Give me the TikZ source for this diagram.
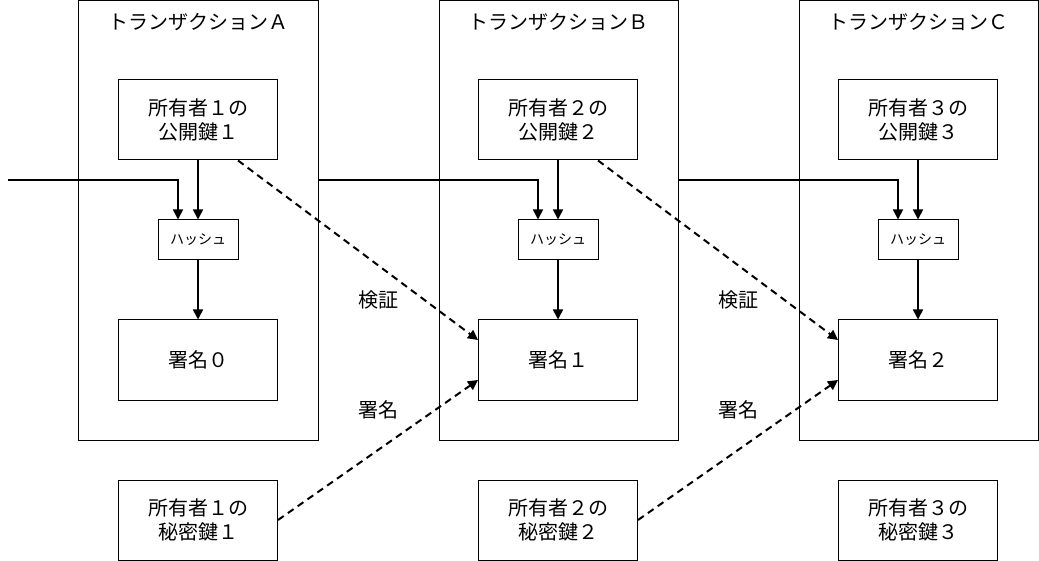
\documentclass[tikz,border=0pt]{standalone}
\usepackage{fontspec}
\newfontfamily\jp{Noto Sans CJK JP}
\usepackage{tikz}
\usetikzlibrary{arrows.meta}

\begin{document}
\begin{tikzpicture}[x=1bp,y=1bp,node distance=360bp,
        >={Triangle[length=10bp,width=10bp]},
        txbox/.style={rectangle,draw=black,line width=1bp,minimum width=239bp,minimum height=439bp},
        keybox/.style={rectangle,draw=black,line width=1bp,minimum width=159bp,minimum height=80bp,
          align=center,font=\jp\fontsize{20bp}{24bp}\selectfont},
        hashbox/.style={rectangle,draw=black,line width=1bp,minimum width=80bp,minimum height=40bp,
          font=\jp\fontsize{14bp}{16bp}\selectfont},
        lbl/.style={font=\jp\fontsize{20bp}{24bp}\selectfont},
        flow/.style={->,line width=1.6bp},
        check/.style={->,line width=2bp,dash pattern=on 7bp off 5bp}]
        \useasboundingbox (0,0) rectangle (1039,-561);
        % transactions
        \node[txbox]  (tA) at (198.5,-220.5) {};
        \node[txbox]  (tB) [right of=tA] {};
        \node[txbox]  (tC) [right of=tB] {};
        \node[lbl]    (nA) at (198,-22) {トランザクションＡ};
        \node[lbl]    (nB) [right of=nA] {トランザクションＢ};
        \node[lbl]    (nC) [right of=nB] {トランザクションＣ};
        % public keys, hashes, signatures
        \node[keybox] (kA) at (198,-120) {所有者１の\\公開鍵１};
        \node[keybox] (kB) [right of=kA] {所有者２の\\公開鍵２};
        \node[keybox] (kC) [right of=kB] {所有者３の\\公開鍵３};
        \node[hashbox] (hA) at (198,-240) {ハッシュ};
        \node[hashbox] (hB) [right of=hA] {ハッシュ};
        \node[hashbox] (hC) [right of=hB] {ハッシュ};
        \node[keybox] (sA) at (198,-360) {署名０};
        \node[keybox] (sB) [right of=sA] {署名１};
        \node[keybox] (sC) [right of=sB] {署名２};
        % private keys
        \node[keybox] (pA) at (198,-520) {所有者１の\\秘密鍵１};
        \node[keybox] (pB) [right of=pA] {所有者２の\\秘密鍵２};
        \node[keybox] (pC) [right of=pB] {所有者３の\\秘密鍵３};
        % labels between the columns
        \node[lbl] (vA) at (378,-300) {検証};
        \node[lbl] (gA) at (378,-410) {署名};
        \node[lbl] (vB) [right of=vA] {検証};
        \node[lbl] (gB) [right of=gA] {署名};
        \coordinate (in0) at (8,-180);
        \draw[flow] (in0) -| ([xshift=-20bp]hA.north);
        \draw[flow] (tA.east |- in0) -| ([xshift=-20bp]hB.north);
        \draw[flow] (tB.east |- in0) -| ([xshift=-20bp]hC.north);
        \draw[flow] (kA) -- (hA);
        \draw[flow] (kB) -- (hB);
        \draw[flow] (kC) -- (hC);
        \draw[flow] (hA) -- (sA);
        \draw[flow] (hB) -- (sB);
        \draw[flow] (hC) -- (sC);
        \draw[check] ([xshift=40bp]kA.south) -- ([yshift=20bp]sB.west);
        \draw[check] ([xshift=40bp]kB.south) -- ([yshift=20bp]sC.west);
        \draw[check] (pA.east) -- ([yshift=-20bp]sB.west);
        \draw[check] (pB.east) -- ([yshift=-20bp]sC.west);
      \end{tikzpicture}
\end{document}
